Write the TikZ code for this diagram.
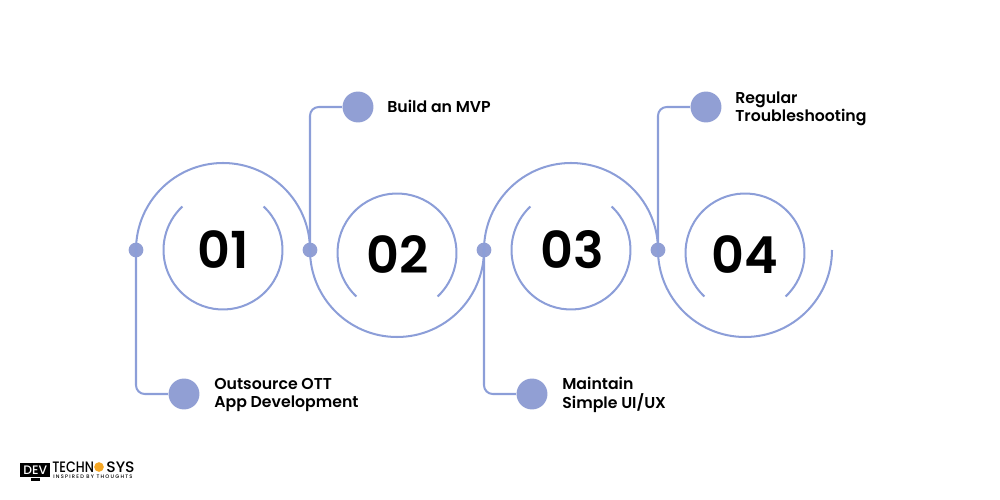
\documentclass[tikz,border=0pt]{standalone}
\usepackage{fontspec}
\setmainfont[BoldFont={Poppins SemiBold}]{Poppins Medium}
\newfontfamily\logofont[LetterSpace=24]{Poppins Medium}
\definecolor{linecol}{HTML}{8C9ED8}
\definecolor{dotcol}{HTML}{919FD4}
\definecolor{hexcol}{HTML}{F5A623}

\begin{document}
\begin{tikzpicture}[x=0.2mm, y=0.2mm, ring/.style={draw=linecol, line width=1.15pt},
	smalldot/.style={circle, fill=dotcol, inner sep=0pt, minimum size=8.4pt},
	bigdot/.style={circle, fill=dotcol, inner sep=0pt, minimum size=17.6pt},
	numtext/.style={text=black, font=\fontsize{29}{29}\selectfont\bfseries},
	steptext/.style={text=black, font=\fontsize{8.95}{10.4}\selectfont\bfseries, align=left, anchor=west, inner sep=0pt},
	logotext/.style={text=black, font=\fontsize{8.2}{8.2}\selectfont, inner sep=0pt, anchor=west, yscale=1.05, transform shape}]
			\useasboundingbox (0,0) rectangle (1000,500);
			
			\node[smalldot] (d1) at (136,250){};
			\node[smalldot] (d2) at (310,250){};
			\node[smalldot] (d3) at (484,250){};
			\node[smalldot] (d4) at (658,250){};
			
			\node[bigdot] (b1) at (184,106){};
			\node[bigdot] (b2) at (358,393){};
			\node[bigdot] (b3) at (532,106){};
			\node[bigdot] (b4) at (706,393){};
			
			\node[numtext] (n1) at (223,250){01};
			\node[numtext] (n2) at (398,245){02};
			\node[numtext] (n3) at (572,250){03};
			\node[numtext] (n4) at (745,245){04};
			
			\node[steptext] (t1) at (214,105){Outsource OTT\\App Development};
			\node[steptext] (t2) at (387,394){Build an MVP};
			\node[steptext] (t3) at (562,105){Maintain\\Simple UI/UX};
			\node[steptext] (t4) at (735,391){Regular\\Troubleshooting};
			
			% big arcs
			\draw[ring] (d1.center) arc[start angle=180, end angle=0, radius=87];
			\draw[ring] (d2.center) arc[start angle=180, end angle=360, radius=87];
			\draw[ring] (d3.center) arc[start angle=180, end angle=0, radius=87];
			\draw[ring] (d4.center) arc[start angle=180, end angle=360, radius=87];
			
			% inner arcs
			\draw[ring] (223,250) ++(47:59.5) arc[start angle=47, end angle=-227, radius=59.5];
			\draw[ring] (397,247) ++(227:59.5) arc[start angle=227, end angle=-47, radius=59.5];
			\draw[ring] (571,250) ++(47:59.5) arc[start angle=47, end angle=-227, radius=59.5];
			\draw[ring] (745,247) ++(227:59.5) arc[start angle=227, end angle=-47, radius=59.5];
			
			% connectors
			\draw[ring, rounded corners=5pt] (d1.center) |- (b1);
			\draw[ring, rounded corners=5pt] (d2.center) |- (b2);
			\draw[ring, rounded corners=5pt] (d3.center) |- (b3);
			\draw[ring, rounded corners=5pt] (d4.center) |- (b4);
			
			% logo
			\node[fill=black, minimum width=17pt, minimum height=8pt, inner sep=0pt, anchor=north west, text=white, font=\fontsize{7}{7}\selectfont] (dev) at (20,37){DEV};
			\node[fill=black, minimum width=5pt, minimum height=1.8pt, inner sep=0pt, anchor=north] (stand) at (dev.south){};
			\node[logotext, xscale=0.88] (techn) at (52,33){TECHN};
			\node[circle, fill=hexcol, minimum size=5.5pt, inner sep=0pt] (hex) at (99,33){};
			\node[logotext, xscale=1.08] (sys) at (106,33){SYS};
			\node[inner sep=0pt, anchor=west, text=black, font=\fontsize{2.9}{2.9}\selectfont\logofont] (tag) at (53,23.5){INSPIRED BY THOUGHTS};
\end{tikzpicture}
\end{document}
